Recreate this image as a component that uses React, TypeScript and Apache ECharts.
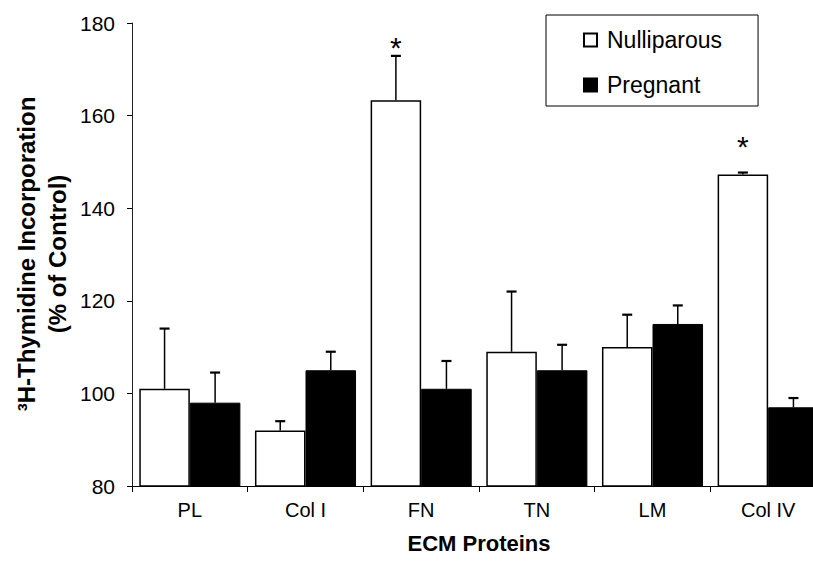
import React, { useEffect, useRef } from "react";
import * as echarts from "echarts";

const categories = ["PL", "Col I", "FN", "TN", "LM", "Col IV"];
const nulliparous = [101, 92, 163.3, 109, 110, 147.3];
const nulliparousErr = [13, 2, 9.6, 13, 7, 0.4];
const pregnant = [98, 105, 101, 105, 115, 97];
const pregnantErr = [6.5, 4, 6, 5.5, 4, 2];
// asterisk marks: [category index, value]
const asterisks = [
  [2, 175.4],
  [5, 154],
];
const yTicks = { min: 80, max: 180, interval: 20 };

const FONT = '"Liberation Sans", Arial, Helvetica, sans-serif';

export default function App() {
  const ref = useRef<HTMLDivElement>(null);
  useEffect(() => {
    if (!ref.current) return;
    const chart = echarts.init(ref.current, null, { renderer: "svg" });
    const OFF = 0.2185;

    const errData: number[][] = [];
    nulliparous.forEach((v, i) => errData.push([i, v, nulliparousErr[i], -1]));
    pregnant.forEach((v, i) => errData.push([i, v, pregnantErr[i], 1]));

    const option: any = {
      animation: false,
      backgroundColor: "#fff",
      textStyle: { fontFamily: FONT, color: "#000" },
      grid: {
        left: 132,
        top: 23,
        width: 694,
        height: 463,
        containLabel: false,
        outerBoundsMode: "none",
      },
      legend: {
        orient: "vertical",
        left: 546,
        top: 15,
        padding: [13, 36, 9, 37],
        itemGap: 21,
        itemWidth: 13,
        itemHeight: 13,
        borderColor: "#000",
        borderWidth: 1,
        backgroundColor: "#fff",
        textStyle: { fontSize: 23, fontFamily: FONT, color: "#000", lineHeight: 24, padding: [0, 0, 0, 5] },
        data: [
          { name: "Nulliparous", icon: "rect" },
          { name: "Pregnant", icon: "rect" },
        ],
      },
      xAxis: {
        type: "category",
        data: categories,
        name: "ECM Proteins",
        nameLocation: "middle",
        nameGap: 46,
        nameTextStyle: { fontSize: 22, fontWeight: "bold", fontFamily: FONT, color: "#000" },
        axisLine: { show: true, lineStyle: { color: "#000", width: 1.2 } },
        axisTick: { show: true, length: 6, lineStyle: { color: "#000" } },
        axisLabel: { fontSize: 20, margin: 14, color: "#000", fontFamily: FONT },
        splitLine: { show: false },
      },
      yAxis: {
        type: "value",
        min: yTicks.min,
        max: yTicks.max,
        interval: yTicks.interval,
        axisLine: { show: true, lineStyle: { color: "#222", width: 1 } },
        axisTick: { show: true, length: 5, lineStyle: { color: "#000" } },
        axisLabel: { fontSize: 21, margin: 17, color: "#000", fontFamily: FONT },
        splitLine: { show: false },
      },
      graphic: [
        {
          type: "text",
          x: 26,
          y: 254,
          rotation: Math.PI / 2,
          style: {
            text: "³H-Thymidine Incorporation",
            font: `bold 24px ${FONT}`,
            fill: "#000",
            align: "center",
            verticalAlign: "middle",
            textAlign: "center",
            textVerticalAlign: "middle",
          },
        },
        {
          type: "text",
          x: 57,
          y: 254,
          rotation: Math.PI / 2,
          style: {
            text: "(% of Control)",
            font: `bold 24px ${FONT}`,
            fill: "#000",
            align: "center",
            verticalAlign: "middle",
            textAlign: "center",
            textVerticalAlign: "middle",
          },
        },
      ],
      series: [
        {
          name: "Nulliparous",
          type: "bar",
          data: nulliparous,
          barGap: "0%",
          barCategoryGap: "12.6%",
          itemStyle: { color: "#fff", borderColor: "#000", borderWidth: 1.5 },
          z: 2,
        },
        {
          name: "Pregnant",
          type: "bar",
          data: pregnant,
          itemStyle: { color: "#000", borderColor: "#000", borderWidth: 1 },
          z: 2,
        },
        {
          name: "errors",
          type: "custom",
          z: 4,
          encode: { x: 0, y: 1 },
          data: errData,
          renderItem: (params: any, api: any) => {
            const idx = api.value(0);
            const val = api.value(1);
            const err = api.value(2);
            const side = api.value(3);
            const base = api.coord([idx, val]);
            const top = api.coord([idx, val + err]);
            const band = api.size([1, 0])[0];
            const x = base[0] + side * band * OFF;
            return {
              type: "group",
              children: [
                {
                  type: "line",
                  shape: { x1: x, y1: base[1], x2: x, y2: top[1] },
                  style: { stroke: "#000", lineWidth: 1.5 },
                },
                {
                  type: "line",
                  shape: { x1: x - 5, y1: top[1], x2: x + 5, y2: top[1] },
                  style: { stroke: "#000", lineWidth: 2.2 },
                },
              ],
            };
          },
        },
        {
          name: "asterisks",
          type: "custom",
          z: 4,
          encode: { x: 0, y: 1 },
          data: asterisks,
          renderItem: (params: any, api: any) => {
            const idx = api.value(0);
            const val = api.value(1);
            const p = api.coord([idx, val]);
            const band = api.size([1, 0])[0];
            const x = p[0] - band * OFF;
            return {
              type: "text",
              x: x,
              y: p[1] + 3,
              style: {
                text: "*",
                font: `30px ${FONT}`,
                fill: "#000",
                align: "center",
                verticalAlign: "middle",
                textAlign: "center",
                textVerticalAlign: "middle",
              },
            };
          },
        },
      ],
    };
    chart.setOption(option);
    return () => chart.dispose();
  }, []);
  return (
    <div
      ref={ref}
      style={{ position: "absolute", left: 0, top: 0, width: 813, height: 566, background: "#fff" }}
    />
  );
}
